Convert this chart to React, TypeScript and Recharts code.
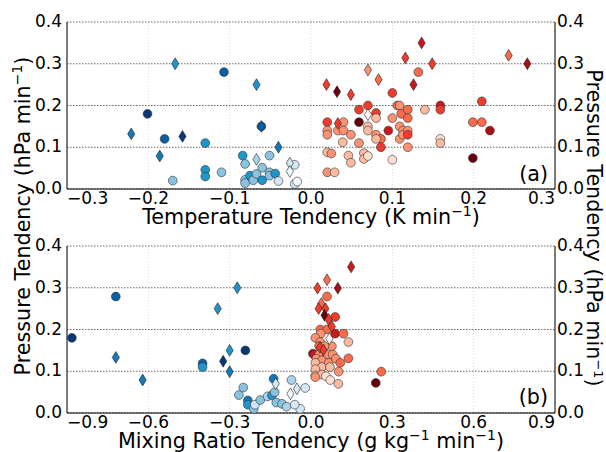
import React from 'react';
import { ScatterChart, Scatter, XAxis, YAxis, CartesianGrid } from 'recharts';

const FONT = '"DejaVu Sans", Verdana, sans-serif';

// colour scales (shade level -> colour)
const BLUES = ['#f2f8fc', '#d3e7f4', '#a9d3ea', '#89c3e0', '#1e96cc', '#1479b8', '#0b5fa3', '#0a3877'];
const REDS = ['#fff5f0', '#fee0d2', '#fcbba1', '#fc9272', '#fb6a4a', '#ef3b2c', '#cb181d', '#a50f15', '#67000d'];

type Pt = [number, number, number]; // [x tendency, pressure tendency, shade level]

// ---------- panel (a): temperature tendency ----------
const tempBlueCircles: Pt[] = [
  [-0.107, 0.28, 6], [-0.201, 0.18, 7], [-0.180, 0.12, 6], [-0.170, 0.02, 3], [-0.130, 0.11, 4],
  [-0.130, 0.046, 4], [-0.130, 0.030, 4], [-0.110, 0.040, 3], [-0.084, 0.080, 4], [-0.081, 0.060, 3],
  [-0.081, 0.022, 3], [-0.081, 0.014, 3], [-0.075, 0.032, 4], [-0.071, 0.021, 3], [-0.067, 0.036, 3],
  [-0.060, 0.051, 3], [-0.060, 0.021, 4], [-0.061, 0.15, 5], [-0.051, 0.08, 3], [-0.051, 0.04, 3],
  [-0.051, 0.032, 3], [-0.044, 0.037, 4], [-0.040, 0.019, 1], [-0.020, 0.058, 1], [-0.020, 0.012, 1],
  [-0.017, 0.018, 0],
];
const tempBlueDiamonds: Pt[] = [
  [-0.167, 0.30, 4], [-0.067, 0.25, 4], [-0.221, 0.132, 5], [-0.186, 0.079, 5], [-0.158, 0.126, 7],
  [-0.061, 0.15, 6], [-0.040, 0.10, 5], [-0.067, 0.071, 2], [-0.026, 0.062, 1], [-0.026, 0.042, 0],
];
const tempRedCircles: Pt[] = [
  [0.020, 0.16, 5], [0.020, 0.14, 3], [0.020, 0.13, 3], [0.020, 0.088, 2], [0.025, 0.085, 3],
  [0.020, 0.04, 3], [0.029, 0.04, 2], [0.033, 0.14, 3], [0.040, 0.16, 3], [0.040, 0.14, 3],
  [0.039, 0.112, 2], [0.046, 0.08, 2], [0.049, 0.13, 3], [0.049, 0.063, 2], [0.059, 0.19, 5],
  [0.059, 0.16, 8], [0.059, 0.11, 3], [0.070, 0.20, 5], [0.070, 0.15, 2], [0.070, 0.14, 2],
  [0.065, 0.086, 2], [0.065, 0.072, 2], [0.070, 0.079, 1], [0.080, 0.182, 5], [0.080, 0.17, 2],
  [0.080, 0.13, 3], [0.086, 0.12, 4], [0.086, 0.10, 5], [0.080, 0.12, 2], [0.095, 0.14, 6],
  [0.100, 0.23, 5], [0.100, 0.17, 3], [0.100, 0.07, 1], [0.106, 0.20, 4], [0.109, 0.20, 3],
  [0.109, 0.15, 3], [0.109, 0.12, 3], [0.113, 0.14, 3], [0.113, 0.13, 3], [0.111, 0.18, 4],
  [0.119, 0.19, 4], [0.119, 0.17, 4], [0.119, 0.14, 3], [0.119, 0.13, 5], [0.119, 0.10, 3],
  [0.132, 0.28, 4], [0.140, 0.19, 2], [0.159, 0.20, 6], [0.159, 0.19, 5], [0.159, 0.12, 1],
  [0.159, 0.11, 2], [0.199, 0.16, 4], [0.210, 0.16, 4], [0.210, 0.21, 5], [0.220, 0.14, 7],
  [0.199, 0.074, 8],
];
const tempRedDiamonds: Pt[] = [
  [0.019, 0.25, 5], [0.032, 0.233, 8], [0.049, 0.226, 5], [0.070, 0.285, 3], [0.083, 0.262, 4],
  [0.116, 0.314, 5], [0.136, 0.350, 6], [0.149, 0.30, 5], [0.126, 0.25, 6], [0.243, 0.32, 4],
  [0.266, 0.30, 7], [0.033, 0.157, 5], [0.070, 0.178, 0],
];

// ---------- panel (b): mixing ratio tendency ----------
const mixBlueCircles: Pt[] = [
  [-0.882, 0.18, 7], [-0.720, 0.279, 6], [-0.40, 0.119, 6], [-0.40, 0.11, 4], [-0.242, 0.15, 7],
  [-0.25, 0.061, 3], [-0.266, 0.043, 3], [-0.233, 0.03, 5], [-0.233, 0.02, 4], [-0.211, 0.01, 3],
  [-0.207, 0.02, 1], [-0.187, 0.031, 3], [-0.16, 0.04, 2], [-0.138, 0.082, 5], [-0.144, 0.042, 4],
  [-0.134, 0.05, 3], [-0.128, 0.025, 3], [-0.107, 0.022, 3], [-0.09, 0.015, 2], [-0.072, 0.079, 2],
  [-0.04, 0.01, 1], [-0.021, 0.06, 1], [-0.06, 0.02, 1],
];
const mixBlueDiamonds: Pt[] = [
  [-0.720, 0.133, 5], [-0.621, 0.079, 5], [-0.344, 0.25, 4], [-0.272, 0.30, 4], [-0.30, 0.15, 4],
  [-0.324, 0.124, 7], [-0.30, 0.099, 5], [-0.13, 0.07, 1], [-0.052, 0.058, 1], [-0.076, 0.046, 0],
];
const mixRedCircles: Pt[] = [
  [0.059, 0.279, 4], [0.089, 0.23, 5], [0.034, 0.20, 4], [0.059, 0.20, 4], [0.089, 0.19, 6],
  [0.12, 0.19, 4], [0.138, 0.17, 2], [0.036, 0.19, 3], [0.016, 0.18, 3], [0.034, 0.17, 3],
  [0.077, 0.16, 3], [0.03, 0.16, 4], [0.05, 0.16, 3], [0.007, 0.142, 7], [0.012, 0.14, 6],
  [0.03, 0.14, 3], [0.059, 0.14, 3], [0.08, 0.14, 3], [0.138, 0.131, 4], [0.02, 0.13, 3],
  [0.04, 0.126, 3], [0.065, 0.12, 3], [0.092, 0.13, 3], [0.108, 0.12, 4], [0.016, 0.12, 2],
  [0.04, 0.11, 2], [0.07, 0.11, 2], [0.102, 0.099, 3], [0.016, 0.105, 2], [0.016, 0.09, 2],
  [0.04, 0.092, 2], [0.055, 0.088, 1], [0.071, 0.079, 1], [0.101, 0.07, 2], [0.259, 0.099, 4],
  [0.239, 0.072, 8], [0.016, 0.086, 3],
];
const mixRedDiamonds: Pt[] = [
  [0.148, 0.35, 6], [0.059, 0.319, 4], [0.024, 0.299, 5], [0.099, 0.299, 7], [0.038, 0.262, 4],
  [0.028, 0.25, 5], [0.053, 0.25, 5], [0.05, 0.234, 8], [0.065, 0.224, 5], [0.077, 0.207, 5],
  [0.033, 0.157, 5], [0.046, 0.151, 5], [0.068, 0.178, 0],
];

const pressureTicks = [0, 0.1, 0.2, 0.3, 0.4];
const tempTicks = [-0.3, -0.2, -0.1, 0, 0.1, 0.2, 0.3];
const mixTicks = [-0.9, -0.6, -0.3, 0, 0.3, 0.6, 0.9];

const TICK_FS = 17;

const fmt = (v: number) => {
  if (Math.abs(v) < 1e-9) return '0.0';
  return (v < 0 ? '\u2212' : '') + Math.abs(v).toFixed(1);
};

const toRows = (pts: Pt[], palette: string[], marker: string) =>
  pts.map(([x, y, s]) => ({ x, y, color: palette[s], marker }));

function MarkerShape(props: any) {
  const { cx, cy, payload } = props;
  if (cx == null || cy == null) return null;
  if (payload.marker === 'd') {
    return (
      <polygon
        points={`${cx},${cy - 5.9} ${cx + 3.6},${cy} ${cx},${cy + 5.9} ${cx - 3.6},${cy}`}
        fill={payload.color}
        stroke="#222"
        strokeWidth={0.6}
      />
    );
  }
  return <circle cx={cx} cy={cy} r={4.4} fill={payload.color} stroke="#333" strokeWidth={0.6} />;
}

const makeXTick = (min: number, max: number) => (p: any) => {
  const v = p.payload.value;
  const anchor = Math.abs(v - min) < 1e-9 ? 'start' : Math.abs(v - max) < 1e-9 ? 'end' : 'middle';
  return (
    <text x={p.x} y={p.y} dy="0.71em" textAnchor={anchor} fontSize={TICK_FS} fontFamily={FONT} fill="#000">
      {fmt(v)}
    </text>
  );
};
const makeYTick = (anchor: 'start' | 'end') => (p: any) => (
  <text x={p.x} y={p.y} dy="0.3em" textAnchor={anchor} fontSize={TICK_FS} fontFamily={FONT} fill="#000">
    {fmt(p.payload.value)}
  </text>
);

function Panel(props: {
  top: number;
  ticks: number[];
  blueC: Pt[];
  blueD: Pt[];
  redC: Pt[];
  redD: Pt[];
}) {
  const { top, ticks, blueC, blueD, redC, redD } = props;
  const min = ticks[0];
  const max = ticks[ticks.length - 1];
  return (
    <div style={{ position: 'absolute', left: 0, top }}>
      <ScatterChart width={606} height={228} margin={{ top: 22, right: 11, bottom: 14, left: 27 }}>
        <CartesianGrid horizontal={false} stroke="#dcdcdc" strokeDasharray="1 2" />
        <CartesianGrid vertical={false} stroke="#444" strokeDasharray="1.5 1.5" strokeWidth={0.8} />
        <XAxis
          type="number"
          dataKey="x"
          domain={[min, max]}
          ticks={ticks}
          interval={0}
          allowDataOverflow
          height={25}
          tickSize={0}
          tickMargin={3}
          axisLine={{ stroke: '#000', strokeWidth: 1 }}
          tickLine={false}
          tick={makeXTick(min, max)}
        />
        <XAxis
          xAxisId="top"
          orientation="top"
          type="number"
          domain={[min, max]}
          ticks={ticks}
          allowDataOverflow
          height={0}
          tick={false}
          tickLine={false}
          axisLine={{ stroke: '#000', strokeWidth: 1 }}
        />
        <YAxis
          type="number"
          dataKey="y"
          domain={[0, 0.4]}
          ticks={pressureTicks}
          interval={0}
          allowDataOverflow
          width={40}
          tickSize={0}
          tickMargin={5}
          axisLine={{ stroke: '#000', strokeWidth: 1 }}
          tickLine={false}
          tick={makeYTick('end')}
        />
        <YAxis
          yAxisId="right"
          orientation="right"
          type="number"
          dataKey="y"
          domain={[0, 0.4]}
          ticks={pressureTicks}
          interval={0}
          allowDataOverflow
          width={40}
          tickSize={0}
          tickMargin={2}
          axisLine={{ stroke: '#000', strokeWidth: 1 }}
          tickLine={false}
          tick={makeYTick('start')}
        />
        <Scatter data={toRows(blueC, BLUES, 'o')} shape={MarkerShape} isAnimationActive={false} />
        <Scatter data={toRows(redC, REDS, 'o')} shape={MarkerShape} isAnimationActive={false} />
        <Scatter data={toRows(blueD, BLUES, 'd')} shape={MarkerShape} isAnimationActive={false} />
        <Scatter yAxisId="right" data={toRows(redD, REDS, 'd')} shape={MarkerShape} isAnimationActive={false} />
      </ScatterChart>
    </div>
  );
}

export default function App() {
  const T = 20.7;
  return (
    <div style={{ position: 'absolute', left: 0, top: 0, width: 606, height: 452, background: '#fff' }}>
      <Panel top={0} ticks={tempTicks} blueC={tempBlueCircles} blueD={tempBlueDiamonds} redC={tempRedCircles} redD={tempRedDiamonds} />
      <Panel top={224} ticks={mixTicks} blueC={mixBlueCircles} blueD={mixBlueDiamonds} redC={mixRedCircles} redD={mixRedDiamonds} />
      <svg width={606} height={452} style={{ position: 'absolute', left: 0, top: 0, pointerEvents: 'none' }}>
        <g fontFamily={FONT} fill="#000">
          <text x={311} y={224} textAnchor="middle" fontSize={T}>
            Temperature Tendency (K min<tspan dy={-8} fontSize={14}>−1</tspan><tspan dy={8}>)</tspan>
          </text>
          <text x={311} y={448} textAnchor="middle" fontSize={T}>
            Mixing Ratio Tendency (g kg<tspan dy={-8} fontSize={14}>−1</tspan><tspan dy={8}> min</tspan><tspan dy={-8} fontSize={14}>−1</tspan><tspan dy={8}>)</tspan>
          </text>
          <text x={29.5} y={216} textAnchor="middle" fontSize={T} transform="rotate(-90 29.5 216)">
            Pressure Tendency (hPa min<tspan dy={-8} fontSize={14}>−1</tspan><tspan dy={8}>)</tspan>
          </text>
          <text x={587} y={228} textAnchor="middle" fontSize={T} transform="rotate(90 587 228)">
            Pressure Tendency (hPa min<tspan dy={-7} fontSize={13}>−1</tspan><tspan dy={7}>)</tspan>
          </text>
          <text x={548} y={181} textAnchor="end" fontSize={T}>(a)</text>
          <text x={548} y={404} textAnchor="end" fontSize={T}>(b)</text>
        </g>
      </svg>
    </div>
  );
}
